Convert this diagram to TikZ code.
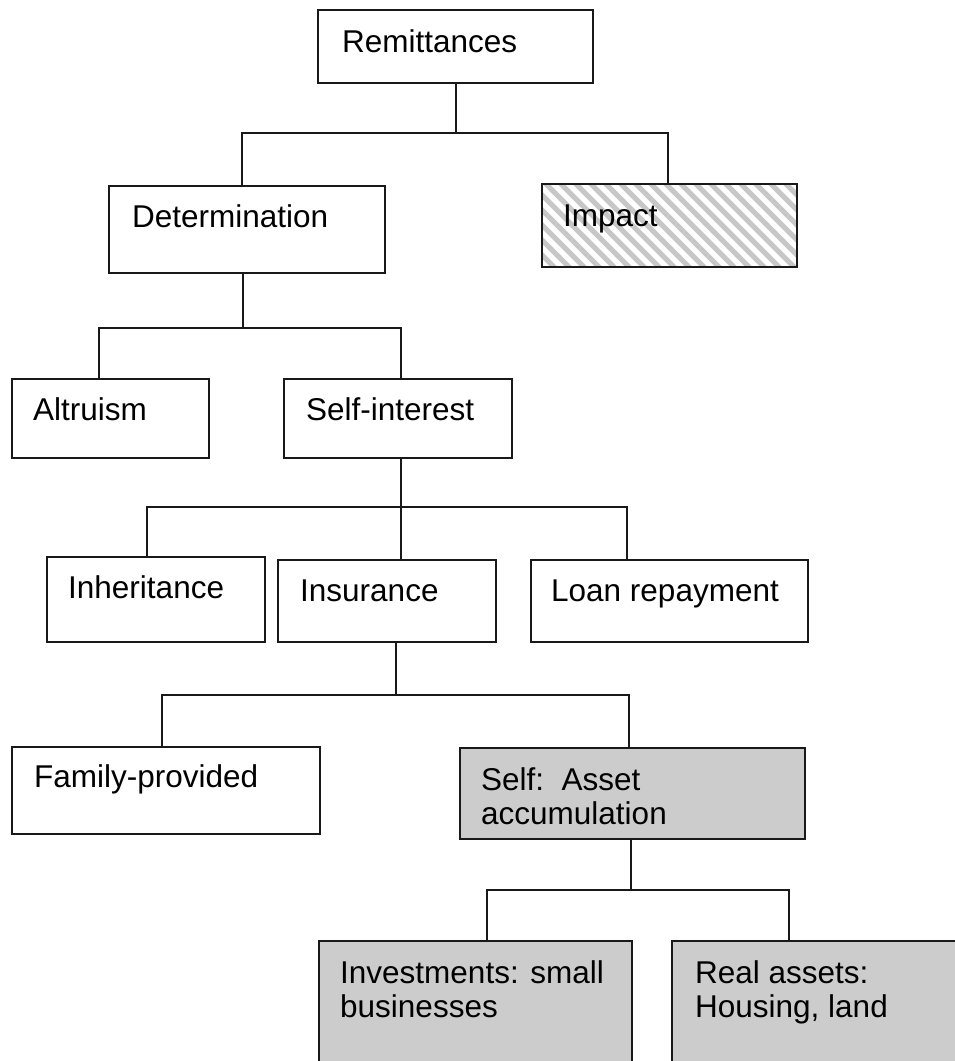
\documentclass[tikz,border=0pt]{standalone}
\usepackage{fontspec}
\setmainfont{Liberation Sans}
\usetikzlibrary{calc}
\begin{document}
\begin{tikzpicture}[x=1pt,y=-1pt,
  box/.style={draw=black!90, line width=2.2pt, anchor=north west, inner sep=0pt, outer sep=0pt},
  shadedbox/.style={box, fill=black!20},
  txt/.style={anchor=base west, inner sep=0pt, font=\fontsize{31.5}{35}\selectfont},
  link/.style={draw=black!90, line width=2pt}]

\path[use as bounding box] (0,0) rectangle (955,1061);
\clip (0,0) rectangle (955,1061);

% boxes
\node[box, minimum width=275pt, minimum height=73pt] (rem) at (318,10) {};
\node[box, minimum width=276pt, minimum height=87pt] (det) at (109,186) {};
\node[box, minimum width=255pt, minimum height=83pt] (imp) at (542,184) {};
\node[box, minimum width=197pt, minimum height=79pt] (alt) at (12,379) {};
\node[box, minimum width=228pt, minimum height=79pt] (sel) at (284,379) {};
\node[box, minimum width=218pt, minimum height=85pt] (inh) at (47,557) {};
\node[box, minimum width=218pt, minimum height=82pt] (ins) at (278,560) {};
\node[box, minimum width=277pt, minimum height=82pt] (loan) at (531,560) {};
\node[box, minimum width=308pt, minimum height=87pt] (fam) at (12,747) {};
\node[shadedbox, minimum width=345pt, minimum height=91pt] (asset) at (460,748) {};
\node[shadedbox, minimum width=313pt, minimum height=140pt] (inv) at (319,941) {};
\node[shadedbox, minimum width=300pt, minimum height=140pt] (real) at (672,941) {};

% diagonal hatching inside the Impact box
\begin{scope}
  \clip (imp.north west) rectangle (imp.south east);
  \foreach \k in {-7,...,18}
    \draw[black!22, line width=5pt] ({542+\k*15},180) -- ++(90,90);
\end{scope}
\draw[box] (imp.north west) rectangle (imp.south east);

% labels
\node[txt] (remT) at ($(rem.north west)+(24,42)$) {Remittances};
\node[txt] (detT) at ($(det.north west)+(23,41)$) {Determination};
\node[txt] (impT) at ($(imp.north west)+(21,42)$) {Impact};
\node[txt] (altT) at ($(alt.north west)+(21,41)$) {Altruism};
\node[txt] (selT) at ($(sel.north west)+(22,41)$) {Self-interest};
\node[txt] (inhT) at ($(inh.north west)+(21,41)$) {Inheritance};
\node[txt] (insT) at ($(ins.north west)+(22,41)$) {Insurance};
\node[txt] (loanT) at ($(loan.north west)+(20,41)$) {Loan repayment};
\node[txt] (famT) at ($(fam.north west)+(22,40)$) {Family-provided};
\node[txt] (assetT) at ($(asset.north west)+(21,42)$) {Self:\ \ Asset};
\node[txt] (assetU) at ($(assetT.base west)+(0,34)$) {accumulation};
\node[txt] (invT) at ($(inv.north west)+(21,42)$) {Investments: small};
\node[txt] (invU) at ($(invT.base west)+(0,34)$) {businesses};
\node[txt] (realT) at ($(real.north west)+(23,42)$) {Real assets:};
\node[txt] (realU) at ($(realT.base west)+(0,34)$) {Housing, land};

% tree connectors
\coordinate (b1w) at (242,133);
\coordinate (b1e) at (668,133);
\draw[link] (rem.south) -- (rem.south |- b1w);
\draw[link] (det.north -| b1w) -- (b1w) -- (b1e) -- (imp.north -| b1e);

\coordinate (s2) at (243,328);
\coordinate (b2w) at (99,328);
\coordinate (b2e) at (401,328);
\draw[link] (det.south -| s2) -- (s2);
\draw[link] (alt.north -| b2w) -- (b2w) -- (b2e) -- (sel.north -| b2e);

\coordinate (s3) at (401,507);
\coordinate (b3w) at (147,507);
\coordinate (b3e) at (627,507);
\draw[link] (sel.south -| s3) -- (s3) -- (ins.north -| s3);
\draw[link] (inh.north -| b3w) -- (b3w) -- (b3e) -- (loan.north -| b3e);

\coordinate (s4) at (396,695);
\coordinate (b4w) at (162,695);
\coordinate (b4e) at (629,695);
\draw[link] (ins.south -| s4) -- (s4);
\draw[link] (fam.north -| b4w) -- (b4w) -- (b4e) -- (asset.north -| b4e);

\coordinate (s5) at (631,890);
\coordinate (b5w) at (487,890);
\coordinate (b5e) at (789,890);
\draw[link] (asset.south -| s5) -- (s5);
\draw[link] (inv.north -| b5w) -- (b5w) -- (b5e) -- (real.north -| b5e);
\end{tikzpicture}
\end{document}
